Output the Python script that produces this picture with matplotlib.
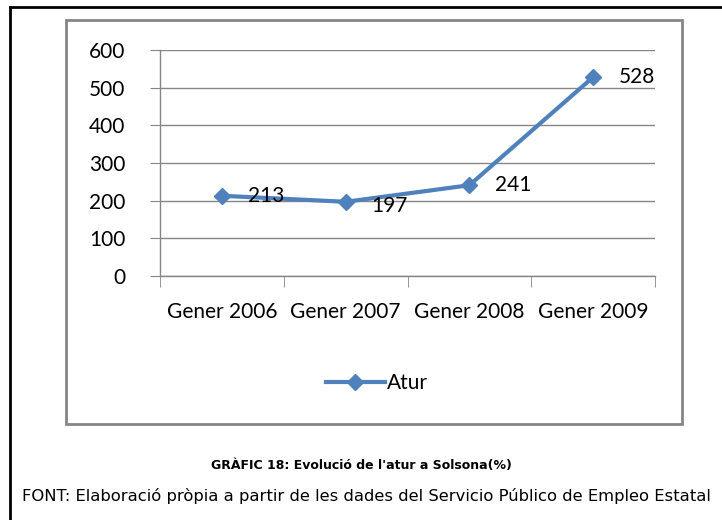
import numpy as np
import matplotlib
matplotlib.use("Agg")
import matplotlib.pyplot as plt
from matplotlib.patches import Rectangle
from matplotlib.lines import Line2D

categories = ["Gener 2006", "Gener 2007", "Gener 2008", "Gener 2009"]
atur = [213, 197, 241, 528]
label_offsets = [(26, 0), (26, -4), (26, 0), (26, 0)]
yticks = [0, 100, 200, 300, 400, 500, 600]

blue = "#4F81BD"
grey = "#868686"
W, H = 722, 520

fig = plt.figure(figsize=(7.22, 5.2), dpi=100)
fig.patch.set_facecolor("white")

# outer page frame (left + top)
fig.add_artist(Line2D([10 / W, 10 / W], [0, 1 - 7 / H], color="black", lw=2, transform=fig.transFigure))
fig.add_artist(Line2D([10 / W, 1], [1 - 7 / H, 1 - 7 / H], color="black", lw=2, transform=fig.transFigure))

# chart box
fig.add_artist(Rectangle((66 / W, 1 - 424 / H), (682 - 66) / W, (424 - 20) / H,
                         transform=fig.transFigure, fill=False, edgecolor=grey, lw=2))

ax = fig.add_axes([160 / W, 1 - 276 / H, (655 - 160) / W, (276 - 50) / H])
x = np.arange(len(categories))
ax.plot(x, atur, color=blue, lw=3, marker="D", markersize=8.5, label="Atur", zorder=3)
for xi, v, off in zip(x, atur, label_offsets):
    ax.annotate(str(v), (xi, v), xytext=off, textcoords="offset pixels",
                ha="left", va="center", fontsize=15, family="Lato", color="black", zorder=4)

ax.set_xlim(-0.5, len(categories) - 0.5)
ax.set_ylim(0, 600)
ax.set_yticks(yticks)
ax.set_yticklabels([str(t) for t in yticks], fontsize=15, family="Lato")
ax.set_xticks(x)
ax.set_xticklabels(categories, fontsize=15, family="Lato")
ax.set_xticks(np.arange(-0.5, len(categories)), minor=True)
ax.tick_params(axis="x", which="major", length=0, pad=19)
ax.tick_params(axis="x", which="minor", length=8, color=grey, direction="out")
ax.tick_params(axis="y", length=7, color=grey, pad=18)
ax.grid(axis="y", color=grey, lw=1)
ax.set_axisbelow(True)
for s in ["top", "right"]:
    ax.spines[s].set_visible(False)
for s in ["left", "bottom"]:
    ax.spines[s].set_color(grey)
    ax.spines[s].set_linewidth(1)

fig.legend(loc="center", bbox_to_anchor=(377 / W, 1 - 383 / H), frameon=False,
           prop={"family": "Lato", "size": 15}, handlelength=2.8, handletextpad=0.1)

fig.text(361 / W, 1 - 465 / H, "GRÀFIC 18: Evolució de l'atur a Solsona(%)",
         ha="center", va="center", fontsize=9, fontweight="bold", family="DejaVu Sans")
fig.text(366 / W, 1 - 496 / H,
         "FONT: Elaboració pròpia a partir de les dades del Servicio Público de Empleo Estatal",
         ha="center", va="center", fontsize=11.8, family="DejaVu Sans")

fig.savefig("out.png", dpi=100)
